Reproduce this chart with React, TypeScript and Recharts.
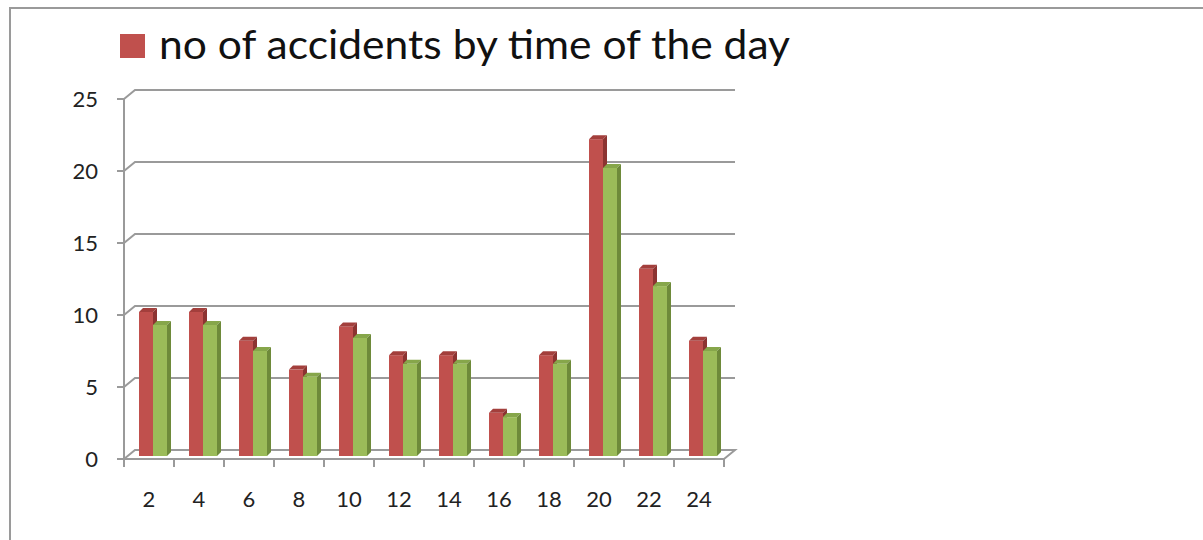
import React from "react";
import {
  BarChart,
  Bar,
  XAxis,
  YAxis,
  CartesianGrid,
  Legend,
} from "recharts";

const hours = ["2", "4", "6", "8", "10", "12", "14", "16", "18", "20", "22", "24"];
const accidents = [10, 10, 8, 6, 9, 7, 7, 3, 7, 22, 13, 8];
const secondSeries = [9.1, 9.1, 7.3, 5.5, 8.2, 6.4, 6.4, 2.7, 6.4, 20, 11.8, 7.3];
const yTicks = [0, 5, 10, 15, 20, 25];

const data = hours.map((h, i) => ({
  hour: h,
  accidents: accidents[i],
  second: secondSeries[i],
}));

const FONT = "Lato, 'Open Sans', sans-serif";
const GRID = "#9a9a9a";
// 3D depth of the back wall and of the columns
const WALL_DX = 11;
const WALL_DY = 9;
const BAR_DX = 4;
const BAR_DY = 4;

const make3dBar = (front: string, top: string, side: string) => (props: any) => {
  const { x, y, width, height } = props;
  if (width == null || height == null || height <= 0) return <g />;
  const bx = x + 4;
  const by = y - 3;
  return (
    <g>
      <rect x={bx} y={by} width={width} height={height} fill={front} />
      <polygon
        points={`${bx},${by} ${bx + BAR_DX},${by - BAR_DY} ${bx + width + BAR_DX},${by - BAR_DY} ${bx + width},${by}`}
        fill={top}
      />
      <polygon
        points={`${bx + width},${by} ${bx + width + BAR_DX},${by - BAR_DY} ${bx + width + BAR_DX},${by + height - BAR_DY} ${bx + width},${by + height}`}
        fill={side}
      />
    </g>
  );
};

const redBar = make3dBar("#C0504D", "#A33F3C", "#8C3331");
const greenBar = make3dBar("#9BBB59", "#86A64A", "#6E8A3A");

const gridLine = (props: any) => {
  const { x1, y1, x2, y, height, index } = props;
  const isFloor = Math.abs(y1 - (y + height)) < 1;
  let d = `M${x1},${y1} L${x1 + WALL_DX},${y1 - WALL_DY} L${x2 + WALL_DX},${y1 - WALL_DY}`;
  if (isFloor) d += ` L${x2},${y1}`;
  return <path key={`g-${index}`} d={d} stroke={GRID} strokeWidth={2} fill="none" />;
};

const HourTick = (props: any) => {
  const { x, y, payload, index } = props;
  const half = payload && payload.offset ? payload.offset : 25;
  return (
    <g>
      <line x1={x - half} y1={y} x2={x - half} y2={y + 8} stroke={GRID} strokeWidth={2} />
      {index === hours.length - 1 && (
        <line x1={x + half} y1={y} x2={x + half} y2={y + 8} stroke={GRID} strokeWidth={2} />
      )}
      <text x={x} y={y + 48} textAnchor="middle" fontSize={22} fill="#222" fontFamily={FONT}>
        {payload.value}
      </text>
    </g>
  );
};

const TitleLegend = (props: any) => {
  const item = (props.payload || [])[0];
  if (!item) return null;
  return (
    <svg width={1203} height={70} style={{ display: "block" }}>
      <rect x={120} y={34} width={25} height={24} fill={item.color} />
      <text
        x={159}
        y={59}
        fontSize={40}
        fill="#111"
        fontFamily={FONT}
        textLength={631}
        lengthAdjust="spacingAndGlyphs"
      >
        {item.value}
      </text>
    </svg>
  );
};

export default function App() {
  return (
    <div
      style={{
        position: "absolute",
        left: 0,
        top: 0,
        width: 1203,
        height: 540,
        overflow: "hidden",
        background: "#fff",
      }}
    >
      <div
        style={{
          position: "absolute",
          left: 9,
          top: 7,
          width: 1400,
          height: 800,
          borderTop: "2px solid #9a9a9a",
          borderLeft: "2px solid #9a9a9a",
        }}
      />
      <BarChart
        width={1203}
        height={540}
        data={data}
        margin={{ top: 29, right: 479, bottom: 21, left: 64 }}
        barGap={0}
        barSize={14}
      >
        <Legend
          verticalAlign="top"
          align="left"
          content={TitleLegend}
          wrapperStyle={{ left: 0, top: 0, width: 1203, height: 70 }}
        />
        <CartesianGrid vertical={false} horizontal={gridLine} />
        <XAxis
          dataKey="hour"
          interval={0}
          height={60}
          tickSize={0}
          tickMargin={0}
          tickLine={false}
          axisLine={{ stroke: GRID, strokeWidth: 2 }}
          tick={HourTick}
        />
        <YAxis
          width={60}
          domain={[0, 25]}
          ticks={yTicks}
          interval={0}
          tickSize={7}
          tickMargin={19}
          tickLine={{ stroke: GRID, strokeWidth: 2 }}
          axisLine={{ stroke: GRID, strokeWidth: 2 }}
          tick={{ fontSize: 22, fill: "#222", fontFamily: FONT }}
        />
        <Bar
          dataKey="accidents"
          name="no of accidents by time of the day"
          fill="#C0504D"
          shape={redBar}
          isAnimationActive={false}
        />
        <Bar
          dataKey="second"
          name="second"
          fill="#9BBB59"
          legendType="none"
          shape={greenBar}
          isAnimationActive={false}
        />
      </BarChart>
    </div>
  );
}
